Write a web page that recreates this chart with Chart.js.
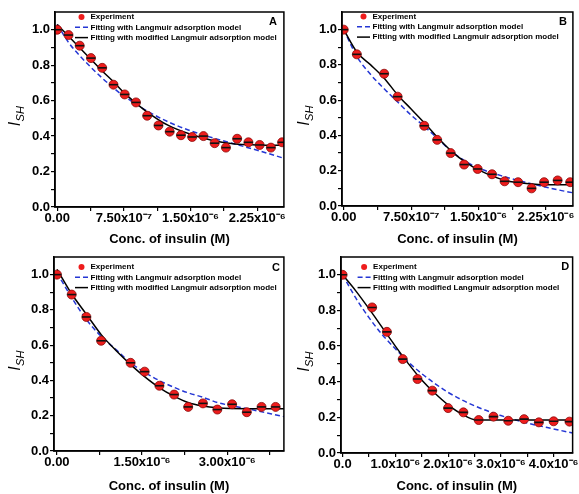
<!DOCTYPE html>
<html>
<head>
<meta charset="utf-8">
<script src="https://cdn.jsdelivr.net/npm/chart.js@4.4.1/dist/chart.umd.min.js"></script>
<style>
body { margin: 0; background: #fff; }
#wrap { position: relative; width: 579px; height: 494px; }
canvas { position: absolute; }
</style>
</head>
<body>
<div id="wrap">
  <canvas id="cA" width="290" height="247" style="left:0;top:0"></canvas>
  <canvas id="cB" width="290" height="247" style="left:289px;top:0"></canvas>
  <canvas id="cC" width="290" height="247" style="left:0;top:247px"></canvas>
  <canvas id="cD" width="290" height="247" style="left:289px;top:247px"></canvas>
</div>
<script>
// ---- panel A ----
const expXA = [0, 1.27e-7, 2.53e-7, 3.8e-7, 5.06e-7, 6.33e-7, 7.59e-7, 8.86e-7, 1.012e-6, 1.139e-6, 1.265e-6,
  1.392e-6, 1.518e-6, 1.645e-6, 1.771e-6, 1.898e-6, 2.024e-6, 2.151e-6, 2.277e-6, 2.404e-6, 2.53e-6];
const expYA = [1.00, 0.97, 0.91, 0.84, 0.785, 0.69, 0.635, 0.59, 0.515, 0.46, 0.425,
  0.405, 0.395, 0.40, 0.36, 0.335, 0.385, 0.365, 0.35, 0.335, 0.365];
const fitXA = [0, 1.25e-7, 2.5e-7, 3.75e-7, 5e-7, 6.25e-7, 7.5e-7, 8.75e-7, 1.0e-6, 1.25e-6, 1.5e-6, 1.75e-6, 2.0e-6, 2.25e-6, 2.55e-6];
const langYA = [1.03, 0.93, 0.855, 0.79, 0.73, 0.675, 0.625, 0.585, 0.545, 0.48, 0.43, 0.39, 0.355, 0.32, 0.275];
const modYA = [1.03, 0.965, 0.90, 0.835, 0.77, 0.71, 0.645, 0.59, 0.54, 0.46, 0.41, 0.375, 0.355, 0.35, 0.348];

// ---- panel B ----
const expXB = [0, 1.46e-7, 4.5e-7, 6.0e-7, 8.96e-7, 1.04e-6, 1.19e-6, 1.34e-6, 1.49e-6, 1.65e-6, 1.79e-6,
  1.94e-6, 2.09e-6, 2.23e-6, 2.38e-6, 2.52e-6];
const expYB = [1.00, 0.86, 0.75, 0.62, 0.455, 0.375, 0.30, 0.235, 0.21, 0.18, 0.14,
  0.135, 0.10, 0.135, 0.145, 0.135];
const fitXB = [0, 1.5e-7, 3e-7, 4.5e-7, 6e-7, 7.5e-7, 9e-7, 1.05e-6, 1.2e-6, 1.35e-6, 1.5e-6, 1.8e-6, 2.1e-6, 2.4e-6, 2.55e-6];
const langYB = [1.0, 0.845, 0.745, 0.665, 0.59, 0.515, 0.45, 0.38, 0.31, 0.255, 0.215, 0.165, 0.125, 0.09, 0.075];
const modYB = [1.0, 0.87, 0.80, 0.725, 0.63, 0.55, 0.47, 0.385, 0.31, 0.25, 0.205, 0.145, 0.125, 0.12, 0.12];

// ---- panel C ----
const expXC = [0, 2.6e-7, 5.19e-7, 7.79e-7, 1.298e-6, 1.546e-6, 1.806e-6, 2.065e-6, 2.313e-6, 2.573e-6,
  2.827e-6, 3.087e-6, 3.346e-6, 3.606e-6, 3.854e-6];
const expYC = [1.00, 0.887, 0.76, 0.625, 0.50, 0.45, 0.37, 0.32, 0.25, 0.27,
  0.235, 0.265, 0.22, 0.25, 0.25];
const fitXC = [0, 2.6e-7, 5.2e-7, 7.8e-7, 1.04e-6, 1.3e-6, 1.55e-6, 1.8e-6, 2.07e-6, 2.31e-6, 2.57e-6, 2.83e-6, 3.35e-6, 4.0e-6];
const langYC = [1.01, 0.87, 0.745, 0.65, 0.575, 0.50, 0.445, 0.40, 0.36, 0.33, 0.305, 0.275, 0.24, 0.195];
const modYC = [1.03, 0.89, 0.775, 0.66, 0.57, 0.49, 0.42, 0.36, 0.31, 0.275, 0.255, 0.245, 0.24, 0.24];

// ---- panel D ----
const expXD = [0, 5.6e-7, 8.4e-7, 1.14e-6, 1.42e-6, 1.70e-6, 2.0e-6, 2.29e-6, 2.58e-6, 2.86e-6,
  3.14e-6, 3.44e-6, 3.72e-6, 4.0e-6, 4.3e-6];
const expYD = [1.00, 0.817, 0.68, 0.527, 0.415, 0.35, 0.252, 0.228, 0.185, 0.204,
  0.181, 0.19, 0.172, 0.178, 0.176];
const langXD = [0, 2.5e-7, 5e-7, 7.5e-7, 1e-6, 1.25e-6, 1.5e-6, 1.75e-6, 2e-6, 2.5e-6, 3e-6, 3.5e-6, 4e-6, 4.36e-6];
const langYD = [1.0, 0.87, 0.76, 0.665, 0.585, 0.51, 0.445, 0.39, 0.34, 0.265, 0.21, 0.168, 0.135, 0.112];
const modXD = [0, 2.5e-7, 5e-7, 7.5e-7, 1e-6, 1.25e-6, 1.5e-6, 1.75e-6, 2e-6, 2.25e-6, 2.55e-6, 3e-6, 4.36e-6];
const modYD = [1.0, 0.91, 0.81, 0.705, 0.60, 0.50, 0.41, 0.335, 0.27, 0.22, 0.185, 0.185, 0.185];

// ---- ticks ----
const yTicks = [0, 0.1, 0.2, 0.3, 0.4, 0.5, 0.6, 0.7, 0.8, 0.9, 1.0];
const yLabels = ['0.0', '', '0.2', '', '0.4', '', '0.6', '', '0.8', '', '1.0'];
const xTicksAB = [0, 3.75e-7, 7.5e-7, 1.125e-6, 1.5e-6, 1.875e-6, 2.25e-6];
const xLabelsAB = ['0.00', '', '7.50x10⁻⁷', '', '1.50x10⁻⁶', '', '2.25x10⁻⁶'];
const xTicksC = [0, 7.5e-7, 1.5e-6, 2.25e-6, 3.0e-6, 3.75e-6];
const xLabelsC = ['0.00', '', '1.50x10⁻⁶', '', '3.00x10⁻⁶', ''];
const xTicksD = [0, 5e-7, 1e-6, 1.5e-6, 2e-6, 2.5e-6, 3e-6, 3.5e-6, 4e-6];
const xLabelsD = ['0.0', '', '1.0x10⁻⁶', '', '2.0x10⁻⁶', '', '3.0x10⁻⁶', '', '4.0x10⁻⁶'];

const legendLabels = ['Experiment', 'Fitting with Langmuir adsorption model', 'Fitting with modified Langmuir adsorption model'];
const xTitle = 'Conc. of insulin (M)';

const FONT = '"Liberation Sans", Arial, sans-serif';
const RED = '#ee1c1c';
const BLUE = '#2436d4';

function pts(xs, ys) {
  return xs.map(function (x, i) { return { x: x, y: ys[i] }; });
}

// frame, legend, panel letter and y title
const deco = {
  id: 'deco',
  afterDraw: function (chart, args, o) {
    const c = chart.ctx, a = chart.chartArea;
    c.save();
    c.strokeStyle = '#000';
    c.lineWidth = 1.5;
    c.strokeRect(a.left, a.top, a.right - a.left, a.bottom - a.top);

    // legend
    const lx = a.left + o.leg[0], ly = a.top + o.leg[1];
    c.font = 'bold 8px ' + FONT;
    c.textBaseline = 'middle';
    c.fillStyle = '#000';
    for (let i = 0; i < 3; i++) {
      const y = ly + i * 10.3;
      if (i === 0) {
        c.beginPath();
        c.arc(lx + 6.5, y, 3, 0, Math.PI * 2);
        c.fillStyle = RED;
        c.fill();
      } else {
        c.beginPath();
        c.strokeStyle = i === 1 ? BLUE : '#000';
        c.lineWidth = 1.5;
        c.setLineDash(i === 1 ? [5, 3] : []);
        c.moveTo(lx, y);
        c.lineTo(lx + 13, y);
        c.stroke();
        c.setLineDash([]);
      }
      c.fillStyle = '#000';
      c.fillText(legendLabels[i], lx + 15.5, y);
    }

    // letter
    c.font = 'bold 11px ' + FONT;
    c.textAlign = 'center';
    c.fillText(o.letter, a.right - o.lt[0], a.top + o.lt[1]);

    // y title I_SH
    c.translate(15, (a.top + a.bottom) / 2 + 7);
    c.rotate(-Math.PI / 2);
    c.textAlign = 'left';
    c.textBaseline = 'alphabetic';
    c.font = 'italic 16px ' + FONT;
    const w = c.measureText('I').width;
    c.font = 'italic 11px ' + FONT;
    const w2 = c.measureText('SH').width;
    const x0 = -(w + w2) / 2;
    c.font = 'italic 16px ' + FONT;
    c.fillText('I', x0, 5);
    c.font = 'italic 11px ' + FONT;
    c.fillText('SH', x0 + w + 0.5, 8.5);
    c.restore();
  }
};

function panel(id, p) {
  const W = 290, H = 247;
  const tickFont = { family: FONT, size: 13, weight: 'bold' };
  new Chart(document.getElementById(id), {
    type: 'line',
    data: {
      datasets: [
        { data: pts(p.ex, p.ey), showLine: false, pointStyle: 'line', pointRadius: 4.5, borderColor: '#111', borderWidth: 1.6 },
        { data: pts(p.ex, p.ey), showLine: false, pointStyle: 'circle', pointRadius: 4.5, backgroundColor: RED, borderColor: '#8a0a0a', borderWidth: 0.8 },
        { data: pts(p.mx, p.my), borderColor: '#000', borderWidth: 1.5, pointRadius: 0, cubicInterpolationMode: 'monotone', fill: false },
        { data: pts(p.lx, p.ly), borderColor: BLUE, borderWidth: 1.5, borderDash: [5, 3], pointRadius: 0, cubicInterpolationMode: 'monotone', fill: false }
      ]
    },
    options: {
      responsive: false,
      animation: false,
      layout: { padding: { left: 0, top: p.area[1], right: W - p.area[2], bottom: 0 } },
      plugins: {
        legend: { display: false },
        tooltip: { enabled: false },
        deco: { letter: p.letter, leg: p.leg, lt: p.lt }
      },
      scales: {
        x: {
          type: 'linear',
          min: p.xmin,
          max: p.xmax,
          afterBuildTicks: function (s) { s.ticks = p.xt.map(function (v) { return { value: v }; }); },
          afterFit: function (s) { s.height = H - p.area[3]; },
          ticks: {
            autoSkip: false, maxRotation: 0, padding: 0, color: '#000', font: tickFont,
            callback: function (v, i) { return p.xl[i]; }
          },
          grid: { drawOnChartArea: false, tickLength: 4, color: '#000', lineWidth: 1.2 },
          border: { color: '#000', width: 1.5 },
          title: { display: true, text: xTitle, color: '#000', font: tickFont, padding: 0 }
        },
        y: {
          min: 0,
          max: 1.1,
          afterBuildTicks: function (s) { s.ticks = yTicks.map(function (v) { return { value: v }; }); },
          afterFit: function (s) { s.width = p.area[0]; },
          ticks: {
            autoSkip: false, padding: 1, color: '#000', font: tickFont,
            callback: function (v, i) { return yLabels[i]; }
          },
          grid: { drawOnChartArea: false, tickLength: 4, color: '#000', lineWidth: 1.2 },
          border: { color: '#000', width: 1.5 }
        }
      }
    },
    plugins: [deco]
  });
}

panel('cA', { ex: expXA, ey: expYA, lx: fitXA, ly: langYA, mx: fitXA, my: modYA,
  xmin: -2.5e-8, xmax: 2.55e-6, xt: xTicksAB, xl: xLabelsAB,
  area: [55, 12, 289, 207], leg: [20, 5], lt: [11, 10], letter: 'A' });
panel('cB', { ex: expXB, ey: expYB, lx: fitXB, ly: langYB, mx: fitXB, my: modYB,
  xmin: -1.9e-8, xmax: 2.55e-6, xt: xTicksAB, xl: xLabelsAB,
  area: [53, 12, 287, 206], leg: [15, 4.5], lt: [10, 10], letter: 'B' });
panel('cC', { ex: expXC, ey: expYC, lx: fitXC, ly: langYC, mx: fitXC, my: modYC,
  xmin: -5.2e-8, xmax: 4.0e-6, xt: xTicksC, xl: xLabelsC,
  area: [54, 10, 289, 204], leg: [21, 10], lt: [8, 10.5], letter: 'C' });
panel('cD', { ex: expXD, ey: expYD, lx: langXD, ly: langYD, mx: modXD, my: modYD,
  xmin: -3e-8, xmax: 4.36e-6, xt: xTicksD, xl: xLabelsD,
  area: [52, 10, 286, 206], leg: [16.6, 10], lt: [7.5, 10], letter: 'D' });
</script>
</body>
</html>
